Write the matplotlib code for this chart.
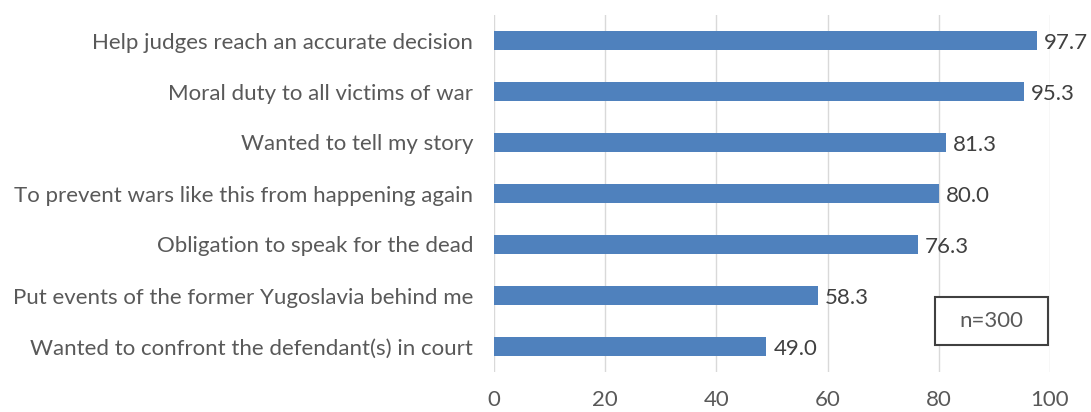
import matplotlib
matplotlib.use("Agg")
import matplotlib.pyplot as plt
from matplotlib.patches import Rectangle

categories = [
    "Help judges reach an accurate decision",
    "Moral duty to all victims of war",
    "Wanted to tell my story",
    "To prevent wars like this from happening again",
    "Obligation to speak for the dead",
    "Put events of the former Yugoslavia behind me",
    "Wanted to confront the defendant(s) in court",
]
values = [97.7, 95.3, 81.3, 80.0, 76.3, 58.3, 49.0]
xticks = [0, 20, 40, 60, 80, 100]
note = "n=300"

plt.rcParams['font.family'] = ['Lato', 'DejaVu Sans']
fig = plt.figure(figsize=(10.91, 4.12), dpi=100)
ax = fig.add_axes([494/1091, 1-372/412, (1050-494)/1091, (372-15)/412])

ypos = list(range(len(categories)))
ax.barh(ypos, values, height=0.36, color='#4F81BD', zorder=3)
ax.set_ylim(len(categories)-0.5, -0.5)
ax.set_xlim(0, 100)
ax.set_xticks(xticks)
ax.set_xticklabels([str(t) for t in xticks])
ax.set_yticks(ypos)
ax.set_yticklabels(categories)
ax.tick_params(axis='both', length=0, labelsize=16, labelcolor='#595959')
ax.tick_params(axis='x', pad=13)
ax.tick_params(axis='y', pad=15)
ax.grid(axis='x', color='#D9D9D9', linewidth=1, zorder=0)
for s in ax.spines.values():
    s.set_visible(False)

for y, v in zip(ypos, values):
    ax.annotate(f"{v:.1f}", (v, y), xytext=(5, -2), textcoords='offset points',
                va='center', ha='left', fontsize=16, color='#404040')

bx0 = (935-494)/(1050-494)
by0 = (372-345)/(372-15)
bw = (1048-935)/(1050-494)
bh = (345-297)/(372-15)
ax.add_patch(Rectangle((bx0, by0), bw, bh, transform=ax.transAxes, fill=True,
                       facecolor='white', edgecolor='#404040', linewidth=1.5, zorder=4))
ax.text(bx0+bw/2, by0+bh/2, note, transform=ax.transAxes, ha='center', va='center',
        fontsize=16, color='#595959', zorder=5)

fig.savefig('out.png', dpi=100)
